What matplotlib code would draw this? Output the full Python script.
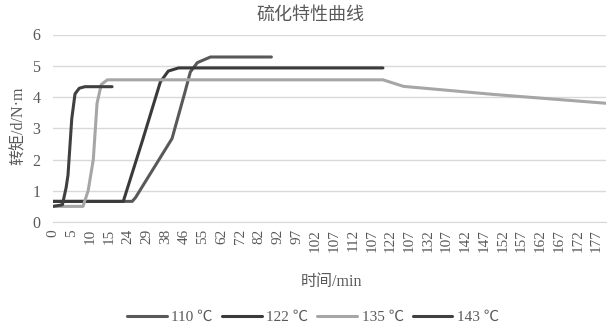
import matplotlib
matplotlib.use('Agg')
import matplotlib.pyplot as plt

plt.rcParams['font.family'] = ['Liberation Serif', 'Noto Sans CJK SC', 'DejaVu Sans']

# category labels shown on the x axis (every second category is labelled)
tick_labels = ['0', '5', '10', '15', '24', '29', '38', '46', '55', '62', '72', '82',
               '92', '97', '102', '107', '112', '107', '122', '107', '132', '107',
               '142', '147', '152', '157', '162', '167', '172', '177']
n_categories = 60

# series: position in category units, torque in dN·m
x_110 = [0, 8.45, 8.8, 12.7, 14.1, 14.65, 15.4, 16.8, 23.3]
y_110 = [0.66, 0.66, 0.78, 2.67, 4.18, 4.8, 5.1, 5.28, 5.28]

x_122 = [0, 7.5, 9.6, 11.45, 12.3, 13.4, 35.2]
y_122 = [0.66, 0.66, 2.66, 4.48, 4.83, 4.93, 4.93]

x_135 = [0, 3.2, 3.75, 4.3, 4.7, 5.15, 5.8, 35.2, 37.4, 47.1, 59]
y_135 = [0.5, 0.5, 1.0, 2.0, 3.8, 4.4, 4.55, 4.55, 4.34, 4.08, 3.8]

x_143 = [0, 1.0, 1.4, 1.6, 2.0, 2.35, 2.8, 3.4, 6.3]
y_143 = [0.5, 0.55, 1.1, 1.5, 3.3, 4.1, 4.28, 4.33, 4.33]

series = [('110 ℃', x_110, y_110, '#595959'),
          ('122 ℃', x_122, y_122, '#3a3a3a'),
          ('135 ℃', x_135, y_135, '#a6a6a6'),
          ('143 ℃', x_143, y_143, '#404040')]

fig = plt.figure(figsize=(6.11, 3.30), dpi=100)
ax = fig.add_axes([53 / 611, 1 - 222 / 330, (606 - 53) / 611, (222 - 34.5) / 330])

for label, xs, ys, color in series:
    ax.plot(xs, ys, color=color, lw=2.2, label=label, solid_capstyle='round')

ax.set_xlim(0, n_categories - 1)
ax.set_ylim(0, 6)
ax.set_yticks(range(0, 7))
ax.set_xticks(range(0, n_categories, 2))
ax.set_xticklabels(tick_labels, rotation=90, fontsize=11, color='#595959')
ax.tick_params(axis='y', labelsize=11.5, colors='#595959', length=0, pad=9)
ax.tick_params(axis='x', length=0, pad=5)

ax.grid(True, axis='y', color='#d9d9d9', lw=1)
ax.set_axisbelow(True)
for side in ['top', 'right', 'left']:
    ax.spines[side].set_visible(False)
ax.spines['bottom'].set_color('#d9d9d9')

fig.text(310 / 611, 1 - 15 / 330, '硫化特性曲线', ha='center', va='center',
         fontsize=13, color='#595959')
fig.text(19 / 611, 1 - 126 / 330, '转矩/d/N·m', ha='center', va='center',
         rotation=90, fontsize=11.5, color='#595959')
fig.text(331 / 611, 1 - 282 / 330, '时间/min', ha='center', va='center',
         fontsize=11.5, color='#595959')

fig.legend(loc='center', bbox_to_anchor=(313 / 611, 1 - 317 / 330), ncol=4,
           frameon=False, fontsize=11, handlelength=2.6, handletextpad=0.3,
           columnspacing=0.6, labelcolor='#595959')

fig.savefig('out.png', dpi=100)
